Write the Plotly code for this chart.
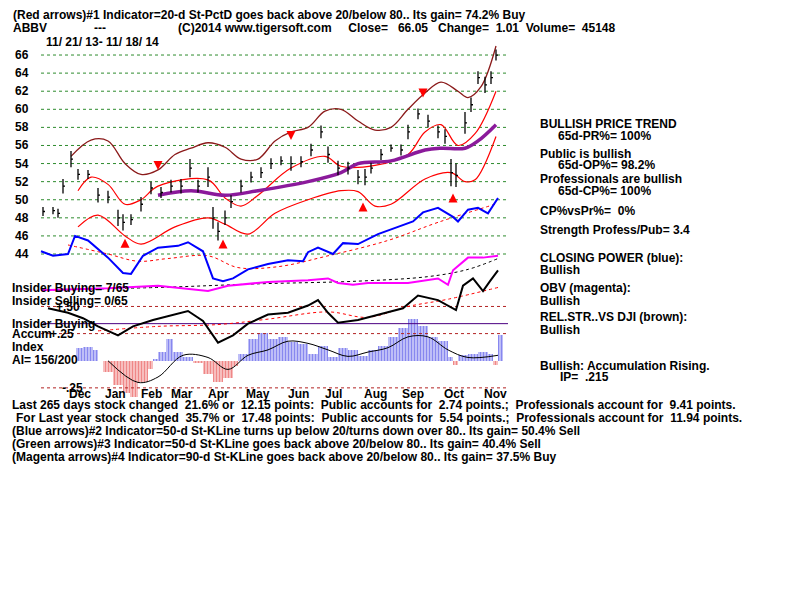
import plotly.graph_objects as go

# x positions are a time index (0..800 spans the chart canvas)
t_px = [35, 45, 50, 55, 63, 70, 80, 90, 100, 110, 115, 123, 133, 143, 153, 163, 173, 182, 190, 200,
        205, 210, 217, 223, 233, 243, 253, 263, 273, 283, 293, 303, 313, 320, 330, 340, 350, 357,
        363, 373, 383, 393, 400, 410, 420, 430, 437, 443, 448, 457, 463, 470, 477, 483, 488]
close = [48.7, 48.8, 48.5, 51.5, 54.5, 52.8, 52.8, 50.5, 50.3, 48.0, 47.5, 47.8, 49.5, 51.3, 50.8,
         51.5, 51.5, 53.5, 51.5, 52.5, 48.0, 46.5, 48.0, 49.8, 51.5, 52.5, 53.0, 54.0, 54.3, 54.0,
         54.2, 55.5, 57.5, 55.0, 53.5, 53.5, 52.5, 52.5, 53.5, 55.0, 55.7, 55.5, 57.5, 59.5, 58.7,
         57.5, 57.0, 53.0, 52.7, 58.5, 60.5, 63.5, 62.7, 63.5, 66.0]
half_rng = [0.5, 0.4, 0.5, 0.8, 0.9, 0.6, 0.5, 0.8, 0.7, 0.9, 0.9, 0.6, 0.8, 0.7, 0.6, 0.7, 0.8,
            1.0, 0.7, 1.1, 1.2, 1.0, 0.8, 0.7, 0.7, 0.6, 0.6, 0.6, 0.5, 0.8, 0.6, 0.7, 0.7, 0.9,
            0.8, 0.7, 0.8, 0.9, 0.6, 0.6, 0.4, 0.6, 0.8, 0.6, 0.7, 0.7, 0.8, 1.5, 1.3, 1.2, 0.8,
            0.7, 0.9, 0.7, 0.6]

upper_t = [63, 83, 100, 117, 133, 150, 167, 183, 200, 217, 233, 250, 267, 283, 300, 317, 333, 350,
           367, 383, 400, 417, 433, 450, 460, 473, 488]
upper_band = [54.8, 56.6, 56.5, 54.0, 52.8, 53.3, 55.0, 55.7, 56.3, 55.8, 54.5, 54.5, 56.5, 57.5,
              58.0, 59.8, 60.0, 58.7, 57.7, 58.0, 60.0, 61.8, 63.0, 62.0, 61.3, 62.5, 67.0]
red_hi_t = [70, 83, 100, 117, 133, 150, 200, 217, 233, 250, 283, 317, 333, 367, 400, 417, 433,
            450, 467, 488]
red_hi = [51.0, 52.5, 51.7, 49.5, 50.0, 51.5, 52.2, 50.2, 49.3, 50.5, 53.5, 54.8, 53.7, 53.8,
          55.0, 57.5, 58.3, 56.0, 57.3, 62.0]
red_lo_t = [70, 90, 117, 133, 167, 200, 217, 240, 267, 300, 333, 350, 367, 383, 417, 443, 457,
            467, 488]
red_lo = [47.0, 48.3, 46.0, 45.1, 47.0, 48.0, 47.3, 46.2, 48.5, 50.0, 51.0, 50.9, 49.3, 49.5,
          52.3, 53.0, 52.0, 52.2, 57.0]
ma_t = [150, 183, 217, 250, 300, 333, 350, 383, 417, 433, 457, 470, 488]
ma_65 = [50.5, 51.0, 50.5, 51.0, 52.0, 53.0, 54.0, 54.3, 55.5, 55.7, 55.7, 56.5, 58.3]

cp_t = [33, 45, 60, 67, 80, 100, 115, 123, 135, 150, 170, 180, 195, 205, 215, 225, 240, 260, 280,
        295, 300, 310, 325, 335, 350, 370, 390, 405, 415, 430, 445, 450, 460, 470, 480, 490]
closing_power = [44.3, 43.8, 44.0, 46.0, 45.5, 43.6, 41.9, 41.8, 43.8, 44.7, 44.9, 45.3, 44.3,
                 41.3, 41.0, 41.3, 42.3, 42.9, 43.3, 43.2, 44.2, 44.7, 44.0, 45.2, 45.1, 46.2,
                 47.0, 47.6, 48.6, 49.1, 48.1, 47.6, 48.9, 49.1, 48.5, 50.2]
cp_ma_t = [60, 100, 130, 160, 200, 230, 270, 320, 380, 430, 490]
cp_ma = [45.0, 44.0, 43.2, 43.5, 43.8, 42.5, 42.6, 43.8, 45.5, 47.5, 49.6]

obv_t = [33, 100, 150, 200, 220, 260, 300, 320, 330, 345, 360, 400, 430, 440, 445, 460, 475, 490]
obv = [40.0, 40.2, 40.5, 39.9, 40.5, 40.9, 41.1, 41.3, 40.8, 40.6, 40.8, 40.8, 41.3, 40.6, 42.2,
       43.6, 43.6, 43.8]
obv_ma_t = [33, 150, 250, 350, 420, 460, 490]
obv_ma = [40.0, 40.3, 40.7, 41.0, 41.5, 42.3, 43.5]

rel_t = [40, 60, 75, 90, 110, 125, 145, 160, 180, 195, 210, 225, 240, 260, 280, 300, 310, 320,
         330, 350, 370, 395, 410, 430, 448, 455, 465, 475, 482, 490]
rel_str = [38.0, 37.5, 36.9, 36.0, 35.0, 36.0, 36.7, 37.1, 37.7, 36.6, 34.2, 35.0, 36.3, 37.3,
           37.5, 38.3, 38.9, 37.5, 36.4, 36.7, 37.3, 38.0, 39.4, 38.9, 37.8, 40.5, 41.3, 39.9,
           41.0, 42.2]
rel_ma_t = [90, 150, 210, 260, 320, 360, 400, 440, 490]
rel_ma = [35.5, 36.0, 36.2, 36.8, 37.6, 37.0, 38.2, 39.0, 40.3]

ai_t = [68, 75, 85, 90, 95, 105, 115, 122, 130, 140, 145, 150, 158, 165, 175, 185, 195, 205, 215,
        225, 230, 240, 250, 260, 270, 280, 290, 300, 310, 320, 330, 340, 350, 360, 370, 380, 390,
        400, 410, 420, 430, 440, 445, 450, 460, 470, 480, 485, 490]
accum = [0.12, 0.13, 0.10, 0.0, -0.10, -0.22, -0.30, -0.33, -0.20, -0.08, 0.02, 0.08, 0.20, 0.08,
         0.03, -0.02, -0.12, -0.20, -0.16, -0.05, 0.06, 0.20, 0.26, 0.20, 0.22, 0.17, 0.15, 0.06,
         0.14, 0.03, 0.12, 0.10, 0.04, 0.10, 0.14, 0.22, 0.30, 0.38, 0.32, 0.22, 0.18, 0.03, -0.04,
         0.05, 0.06, 0.08, 0.06, -0.04, 0.24]
ai_ma_t = [100, 130, 150, 175, 200, 220, 240, 260, 280, 300, 320, 340, 360, 380, 400, 420, 440,
           460, 490]
ai_ma = [0.0, -0.2, -0.15, 0.05, 0.03, -0.08, 0.05, 0.1, 0.18, 0.16, 0.1, 0.04, 0.08, 0.12, 0.22,
         0.22, 0.1, 0.03, 0.05]
AI_ZERO, AI_SCALE = 32.2, 12.0  # AI plotted in price units on the same panel

up_arrows_t = [117, 215, 355, 445]
up_arrows_y = [45.7, 45.6, 49.7, 50.7]
down_arrows_t = [150, 283, 415]
down_arrows_y = [53.3, 56.6, 61.3]

months = ['Dec', 'Jan', 'Feb', 'Mar', 'Apr', 'May', 'Jun', 'Jul', 'Aug', 'Sep', 'Oct', 'Nov']
month_t = [72, 107, 143, 174, 210, 250, 290, 325, 367, 405, 446, 487]
grid_prices = list(range(44, 67, 2))

Y0, Y1 = 4.86, 71.2
FONT = 'Liberation Sans'


def py(p):
    return 1 - p / 600.0


fig = go.Figure()

# price grid
gx, gy = [], []
for g in grid_prices:
    gx += [33, 500, None]
    gy += [g, g, None]
fig.add_trace(go.Scatter(x=gx, y=gy, mode='lines', line=dict(color='#2e8b2e', width=1, dash='dot'),
                         hoverinfo='skip'))
# AI reference lines
ax, ay = [], []
for lv in [0.5, 0.25, -0.25]:
    ax += [33, 500, None]
    ay += [AI_ZERO + lv * AI_SCALE, AI_ZERO + lv * AI_SCALE, None]
fig.add_trace(go.Scatter(x=ax, y=ay, mode='lines', line=dict(color='#b22222', width=1, dash='dot'),
                         hoverinfo='skip'))
fig.add_trace(go.Scatter(x=[35, 500], y=[36.3, 36.3], mode='lines',
                         line=dict(color='#4b0082', width=1)))

# accumulation index histogram (vertical hatching like the original)
ai_y = [a * AI_SCALE for a in accum]
widths = [ai_t[i + 1] - ai_t[i] if i + 1 < len(ai_t) else 5 for i in range(len(ai_t))]
colors = ['#1010e0' if a >= 0 else '#e01010' for a in accum]
fig.add_trace(go.Bar(x=ai_t, y=ai_y, base=AI_ZERO, width=widths, offset=0,
                     marker=dict(color='white', line=dict(width=0),
                                 pattern=dict(shape='|', fgcolor=colors, bgcolor='white',
                                              size=3, solidity=0.7))))
fig.add_trace(go.Scatter(x=ai_ma_t, y=[AI_ZERO + a * AI_SCALE for a in ai_ma], mode='lines',
                         line=dict(color='black', width=1, shape='spline')))

# bands
fig.add_trace(go.Scatter(x=upper_t, y=upper_band, mode='lines',
                         line=dict(color='#8b1a1a', width=1.3, shape='spline')))
fig.add_trace(go.Scatter(x=red_hi_t, y=red_hi, mode='lines',
                         line=dict(color='#ff0000', width=1.2, shape='spline')))
fig.add_trace(go.Scatter(x=red_lo_t, y=red_lo, mode='lines',
                         line=dict(color='#ff0000', width=1.2, shape='spline')))
fig.add_trace(go.Scatter(x=ma_t, y=ma_65, mode='lines',
                         line=dict(color='#8b1a9b', width=3.5, shape='spline')))

# indicators
fig.add_trace(go.Scatter(x=cp_ma_t, y=cp_ma, mode='lines',
                         line=dict(color='#ff0000', width=1, dash='dot', shape='spline')))
fig.add_trace(go.Scatter(x=cp_t, y=closing_power, mode='lines', line=dict(color='#0000ff', width=2)))
fig.add_trace(go.Scatter(x=obv_ma_t, y=obv_ma, mode='lines',
                         line=dict(color='black', width=1, dash='dot', shape='spline')))
fig.add_trace(go.Scatter(x=obv_t, y=obv, mode='lines', line=dict(color='#ff00ff', width=2)))
fig.add_trace(go.Scatter(x=rel_ma_t, y=rel_ma, mode='lines',
                         line=dict(color='#ff0000', width=1, dash='dot', shape='spline')))
fig.add_trace(go.Scatter(x=rel_t, y=rel_str, mode='lines', line=dict(color='black', width=2)))

# price bars
bx, by = [], []
for t, c, h in zip(t_px, close, half_rng):
    bx += [t, t, None, t, t + 2, None]
    by += [c - h, c + h, None, c, c, None]
fig.add_trace(go.Scatter(x=bx, y=by, mode='lines', line=dict(color='black', width=1.3)))

# arrows
fig.add_trace(go.Scatter(x=up_arrows_t, y=up_arrows_y, mode='markers',
                         marker=dict(symbol='arrow-up', size=9, color='red')))
fig.add_trace(go.Scatter(x=down_arrows_t, y=down_arrows_y, mode='markers',
                         marker=dict(symbol='arrow-down', size=9, color='red')))

ann = []


def txt(x, ypix, s, xref='paper'):
    ann.append(dict(x=x, y=py(ypix), xref=xref, yref='paper', text='<b>%s</b>' % s,
                    showarrow=False, xanchor='left', yanchor='middle',
                    font=dict(family=FONT, size=12, color='black')))


txt(0.004, 7, '(Red arrows)#1 Indicator=20-d St-PctD goes back above 20/below 80.. Its gain= 74.2% Buy')
txt(0.004, 20, 'ABBV')
txt(0.105, 20, '---')
txt(0.21, 20, '(C)2014 www.tigersoft.com     Close=   66.05   Change=  1.01  Volume=  45148')
txt(0.045, 34, '11/ 21/ 13- 11/ 18/ 14')
for g in grid_prices:
    ann.append(dict(x=0.006, y=g, xref='paper', yref='y', text='<b>%d</b>' % g, showarrow=False,
                    xanchor='left', font=dict(family=FONT, size=12, color='black')))

right = [(530, 116, 'BULLISH PRICE TREND'), (548, 128, '65d-PR%= 100%'),
         (530, 146, 'Public is bullish'), (548, 157, '65d-OP%= 98.2%'),
         (530, 171, 'Professionals are bullish'), (548, 183, '65d-CP%= 100%'),
         (530, 203, 'CP%vsPr%=  0%'), (530, 222, 'Strength Profess/Pub= 3.4'),
         (530, 250, 'CLOSING POWER (blue):'), (530, 262, 'Bullish'),
         (530, 280, 'OBV (magenta):'), (530, 293, 'Bullish'),
         (530, 309, 'REL.STR..VS DJI (brown):'), (530, 322, 'Bullish'),
         (530, 358, 'Bullish: Accumulation Rising.'), (550, 369, 'IP=  .215')]
for x, y, s in right:
    txt(x / 800, y, s)

left = [(2, 280, 'Insider Buying= 7/65'), (2, 293, 'Insider Selling= 0/65'), (46, 299, '+.50'),
        (2, 316, 'Insider Buying'), (2, 326, 'Accum'), (40, 326, '+.25'), (2, 339, 'Index'),
        (2, 352, 'AI= 156/200'), (52, 380, '-.25')]
for x, y, s in left:
    txt(x / 800, y, s)

for m, t in zip(months, month_t):
    ann.append(dict(x=t, y=py(386), xref='x', yref='paper', text='<b>%s</b>' % m,
                    showarrow=False, font=dict(family=FONT, size=12, color='black')))

bottom = [(2, 397, 'Last 265 days stock changed  21.6% or  12.15 points:  Public accounts for  2.74 points.;  Professionals account for  9.41 points.'),
          (6, 410, 'For Last year stock changed  35.7% or  17.48 points:  Public accounts for  5.54 points.;  Professionals account for  11.94 points.'),
          (2, 423, '(Blue arrows)#2 Indicator=50-d St-KLine turns up below 20/turns down over 80.. Its gain= 50.4% Sell'),
          (2, 436, '(Green arrows)#3 Indicator=50-d St-KLine goes back above 20/below 80.. Its gain= 40.4% Sell'),
          (2, 449, '(Magenta arrows)#4 Indicator=90-d St-KLine goes back above 20/below 80.. Its gain= 37.5% Buy')]
for x, y, s in bottom:
    txt(x / 800, y, s)

fig.update_layout(
    width=800, height=600, margin=dict(l=0, r=0, t=0, b=0),
    paper_bgcolor='white', plot_bgcolor='white', showlegend=False,
    xaxis=dict(range=[0, 800], visible=False, fixedrange=True),
    yaxis=dict(range=[Y0, Y1], visible=False, fixedrange=True),
    annotations=ann, bargap=0,
)
fig.write_html('out.html')
